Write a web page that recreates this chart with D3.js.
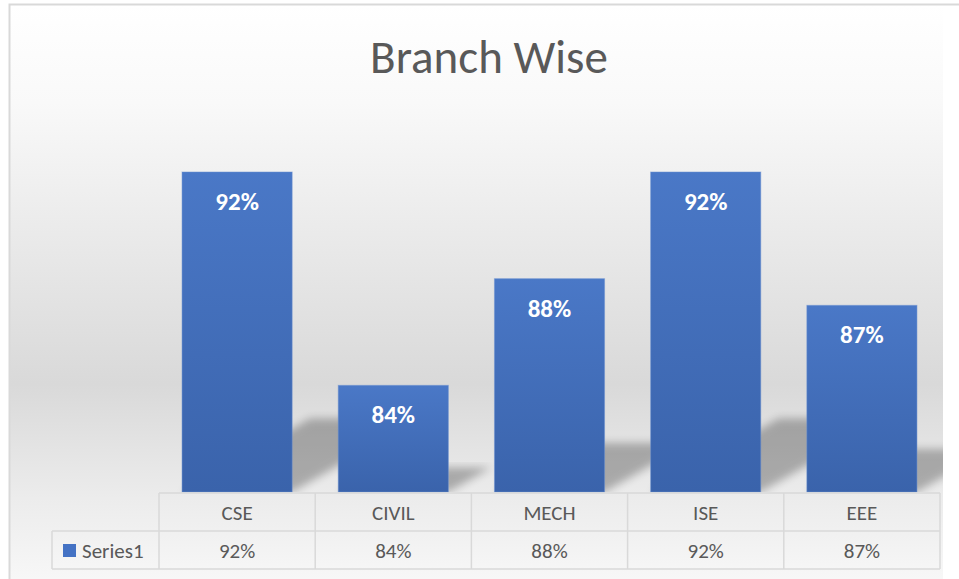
<!DOCTYPE html>
<html>
<head>
<meta charset="utf-8">
<script src="https://cdn.jsdelivr.net/npm/d3@7"></script>
<style>
  body { margin: 0; background: #fff; }
  text { font-family: Carlito, Lato, "Open Sans", sans-serif; }
</style>
</head>
<body>
<div id="chart"></div>
<script>
// chart values
const chartTitle = "Branch Wise";
const categories = ["CSE", "CIVIL", "MECH", "ISE", "EEE"];
const values = [92, 84, 88, 92, 87];
const seriesName = "Series1";
const valueLabels = ["92%", "84%", "88%", "92%", "87%"];

const width = 959, height = 579;
const base = 492;          // bar baseline / top of data table
const rowH = 38;

const svg = d3.select("#chart").append("svg")
  .attr("width", width)
  .attr("height", height);

const defs = svg.append("defs");

// chart area background gradient
const bg = defs.append("linearGradient")
  .attr("id", "bgGrad").attr("x1", 0).attr("y1", 0).attr("x2", 0).attr("y2", 1);
bg.append("stop").attr("offset", "0%").attr("stop-color", "#ffffff");
bg.append("stop").attr("offset", "17%").attr("stop-color", "#f9f9f9");
bg.append("stop").attr("offset", "66%").attr("stop-color", "#d9d9d9");
bg.append("stop").attr("offset", "86%").attr("stop-color", "#ececec");
bg.append("stop").attr("offset", "100%").attr("stop-color", "#f7f7f7");

// bar gradient
const barGrad = defs.append("linearGradient")
  .attr("id", "barGrad").attr("x1", 0).attr("y1", 0).attr("x2", 0).attr("y2", 1);
barGrad.append("stop").attr("offset", "0%").attr("stop-color", "#4a78c7");
barGrad.append("stop").attr("offset", "100%").attr("stop-color", "#3a63ab");

defs.append("filter").attr("id", "blur")
  .attr("x", "-20%").attr("y", "-20%").attr("width", "140%").attr("height", "140%")
  .append("feGaussianBlur").attr("stdDeviation", 4);

defs.append("clipPath").attr("id", "plotClip")
  .append("rect").attr("x", 10).attr("y", 5).attr("width", 933).attr("height", base - 5);

svg.append("rect")
  .attr("x", 10).attr("y", 5)
  .attr("width", 933).attr("height", height - 5)
  .attr("fill", "url(#bgGrad)");

// chart border
svg.append("path")
  .attr("d", `M9.5,${height} V4.5 H${width}`)
  .attr("fill", "none")
  .attr("stroke", "#d9d9d9")
  .attr("stroke-width", 2);

svg.append("text")
  .attr("x", 489).attr("y", 73)
  .attr("text-anchor", "middle")
  .attr("fill", "#595959")
  .style("font-size", "47px")
  .text(chartTitle);

const x = d3.scaleBand()
  .domain(categories)
  .range([159, 940])
  .paddingInner(0.295)
  .paddingOuter(0.1475);

const y = d3.scaleLinear()
  .domain([80, 92])
  .range([base, 172]);

const data = categories.map((c, i) => ({ cat: c, value: values[i], label: valueLabels[i] }));

// perspective shadows behind the bars
svg.append("g")
  .attr("clip-path", "url(#plotClip)")
  .selectAll("path")
  .data(data)
  .enter()
  .append("path")
  .attr("d", d => {
    const x0 = x(d.cat), x1 = x0 + x.bandwidth();
    const h = base - y(d.value);
    const sh = h * 0.23, dx = h * 0.4;
    return `M${x0},${base} L${x1},${base} L${x1 + dx},${base - sh} L${x0 + dx},${base - sh} Z`;
  })
  .attr("fill", "#000")
  .attr("opacity", 0.27)
  .attr("filter", "url(#blur)");

svg.selectAll("rect.bar")
  .data(data)
  .enter()
  .append("rect")
  .attr("class", "bar")
  .attr("x", d => x(d.cat))
  .attr("y", d => y(d.value))
  .attr("width", x.bandwidth())
  .attr("height", d => base - y(d.value))
  .attr("fill", "url(#barGrad)")
  .attr("stroke", "#6a90d2")
  .attr("stroke-opacity", 0.5)
  .attr("stroke-width", 1);

svg.selectAll("text.barLabel")
  .data(data)
  .enter()
  .append("text")
  .attr("class", "barLabel")
  .attr("x", d => x(d.cat) + x.bandwidth() / 2)
  .attr("y", d => y(d.value) + 38)
  .attr("text-anchor", "middle")
  .attr("fill", "#ffffff")
  .style("font-size", "25px")
  .style("font-weight", "bold")
  .text(d => d.label);

// data table
const table = svg.append("g");
const gap = x.step() - x.bandwidth();
const colLeft = c => x(c) - gap / 2;
const lineColor = "#d9d9d9";
const tableRight = colLeft(categories[categories.length - 1]) + x.step();

table.append("path")
  .attr("d", [
    `M${colLeft(categories[0])},${base + 1} H${tableRight}`,
    `M52,${base + 1 + rowH} H${tableRight}`,
    `M52,${base + 1 + 2 * rowH} H${tableRight}`,
    `M52,${base + 1 + rowH} V${base + 1 + 2 * rowH}`,
    ...categories.map(c => `M${colLeft(c)},${base + 1} V${base + 1 + 2 * rowH}`),
    `M${tableRight},${base + 1} V${base + 1 + 2 * rowH}`
  ].join(" "))
  .attr("fill", "none")
  .attr("stroke", lineColor)
  .attr("stroke-width", 1.5);

table.selectAll("text.cat")
  .data(data)
  .enter()
  .append("text")
  .attr("class", "cat")
  .attr("x", d => x(d.cat) + x.bandwidth() / 2)
  .attr("y", base + 28)
  .attr("text-anchor", "middle")
  .attr("fill", "#595959")
  .style("font-size", "21px")
  .text(d => d.cat);

table.selectAll("text.val")
  .data(data)
  .enter()
  .append("text")
  .attr("class", "val")
  .attr("x", d => x(d.cat) + x.bandwidth() / 2)
  .attr("y", base + 1 + rowH + 27)
  .attr("text-anchor", "middle")
  .attr("fill", "#595959")
  .style("font-size", "21px")
  .text(d => d.label);

table.append("rect")
  .attr("x", 63).attr("y", 544)
  .attr("width", 13).attr("height", 13)
  .attr("fill", "#4472c4");

table.append("text")
  .attr("x", 82).attr("y", base + 1 + rowH + 27)
  .attr("fill", "#595959")
  .style("font-size", "21px")
  .text(seriesName);
</script>
</body>
</html>
